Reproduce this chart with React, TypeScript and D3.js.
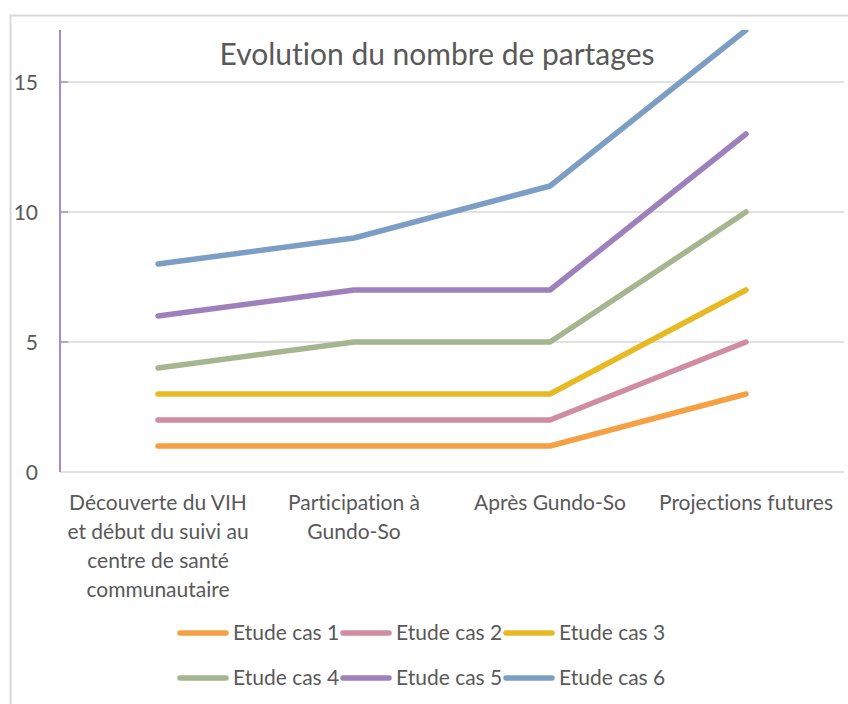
import React from "react";
import * as d3 from "d3";

const categories = [
  ["Découverte du VIH", "et début du suivi au", "centre de santé", "communautaire"],
  ["Participation à", "Gundo-So"],
  ["Après Gundo-So"],
  ["Projections futures"],
];
const seriesNames = ["Etude cas 1", "Etude cas 2", "Etude cas 3", "Etude cas 4", "Etude cas 5", "Etude cas 6"];
const cas1 = [1, 1, 1, 3];
const cas2 = [2, 2, 2, 5];
const cas3 = [3, 3, 3, 7];
const cas4 = [4, 5, 5, 10];
const cas5 = [6, 7, 7, 13];
const cas6 = [8, 9, 11, 17];
const colors = ["#F5A043", "#D08CA0", "#E7B923", "#A5B58F", "#9E80BC", "#7D9EC4"];
const yTicks = [0, 5, 10, 15];
const title = "Evolution du nombre de partages";

const seriesValues = [cas1, cas2, cas3, cas4, cas5, cas6];

const W = 848;
const H = 704;
const FONT = "Lato, 'Open Sans', sans-serif";
const TEXT = "#595959";

export default function App() {
  const left = 60, right = 844, top = 30, bottom = 472;
  const x = d3.scalePoint<number>().domain(d3.range(categories.length)).range([left, right]).padding(0.5);
  const y = d3.scaleLinear().domain([0, 17]).range([bottom, top]);
  const line = d3.line<number>().x((_, i) => x(i)!).y((d) => y(d));

  const legendX0 = 177, legendDX = 163, legendY0 = 633, legendDY = 45;

  return (
    <svg
      width={W}
      height={H}
      style={{ position: "absolute", left: 0, top: 0, background: "#fff", fontVariantLigatures: "none" }}
    >
      <defs>
        <clipPath id="plotclip">
          <rect x={0} y={top} width={W} height={bottom - top + 20} />
        </clipPath>
      </defs>
      <rect x={10.5} y={15.5} width={W + 10} height={H + 10} fill="#fff" stroke="#D9D9D9" strokeWidth={2} />
      <text x={437} y={65} textAnchor="middle" fontFamily={FONT} fontSize={30} fill={TEXT}>
        {title}
      </text>
      {yTicks.map((t) => (
        <g key={t}>
          <line x1={left} x2={right} y1={y(t)} y2={y(t)} stroke="#D9D9D9" strokeWidth={1.5} />
          {t > 0 && <line x1={left} x2={left + 8} y1={y(t)} y2={y(t)} stroke="#A88BCB" strokeWidth={1.5} />}
          <text x={38} y={y(t) + 8} textAnchor="end" fontFamily={FONT} fontSize={21} fill={TEXT}>
            {t}
          </text>
        </g>
      ))}
      <line x1={left} x2={left} y1={top} y2={bottom} stroke="#A88BCB" strokeWidth={2} />
      <g clipPath="url(#plotclip)">
        {seriesValues.map((vals, si) => (
          <path
            key={si}
            d={line(vals)!}
            fill="none"
            stroke={colors[si]}
            strokeWidth={5.5}
            strokeLinecap="round"
            strokeLinejoin="round"
          />
        ))}
      </g>
      {categories.map((lines, i) => (
        <text key={i} textAnchor="middle" fontFamily={FONT} fontSize={21} fill={TEXT}>
          {lines.map((l, j) => (
            <tspan key={j} x={x(i)} y={510 + j * 29}>
              {l}
            </tspan>
          ))}
        </text>
      ))}
      {seriesNames.map((name, i) => {
        const col = i % 3;
        const row = Math.floor(i / 3);
        const lx = legendX0 + col * legendDX;
        const ly = legendY0 + row * legendDY;
        return (
          <g key={name}>
            <line x1={lx + 3} x2={lx + 49} y1={ly} y2={ly} stroke={colors[i]} strokeWidth={5.5} strokeLinecap="round" />
            <text x={lx + 56} y={ly + 7} fontFamily={FONT} fontSize={21} fill={TEXT}>
              {name}
            </text>
          </g>
        );
      })}
    </svg>
  );
}
